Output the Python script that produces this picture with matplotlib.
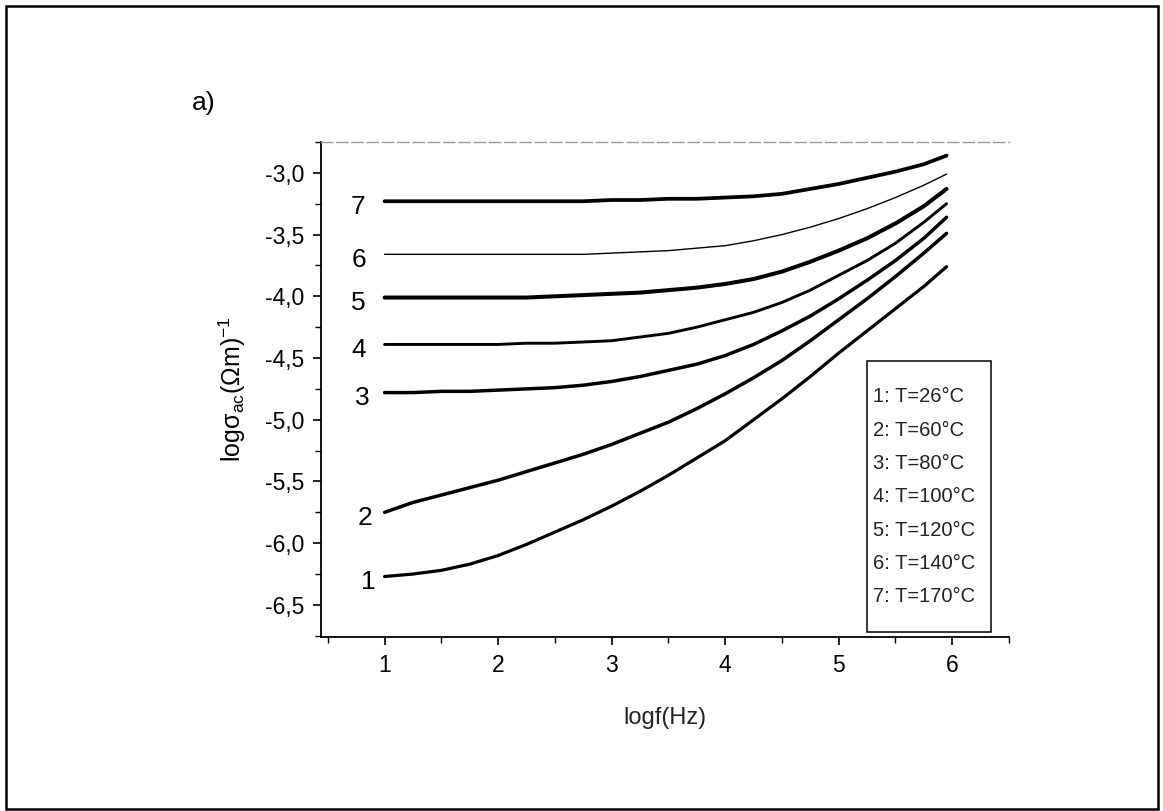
import matplotlib
matplotlib.use("Agg")
import matplotlib.pyplot as plt
from matplotlib.ticker import MultipleLocator, FuncFormatter
from matplotlib.patches import Rectangle

plt.rcParams['font.family'] = ['Liberation Sans', 'DejaVu Sans']
plt.rcParams['mathtext.fontset'] = 'custom'
plt.rcParams['mathtext.rm'] = 'Liberation Sans'
plt.rcParams['mathtext.it'] = 'Liberation Sans:italic'

# ---- data ----
logf = [1.0, 1.25, 1.5, 1.75, 2.0, 2.25, 2.5, 2.75, 3.0, 3.25, 3.5,
        3.75, 4.0, 4.25, 4.5, 4.75, 5.0, 5.25, 5.5, 5.75, 5.95]
curve1 = [-6.27, -6.25, -6.22, -6.17, -6.10, -6.01, -5.91, -5.81, -5.70, -5.58, -5.45,
          -5.31, -5.17, -5.00, -4.83, -4.65, -4.46, -4.28, -4.10, -3.92, -3.76]
curve2 = [-5.75, -5.67, -5.61, -5.55, -5.49, -5.42, -5.35, -5.28, -5.20, -5.11, -5.02,
          -4.91, -4.79, -4.66, -4.52, -4.36, -4.19, -4.02, -3.84, -3.65, -3.49]
curve3 = [-4.78, -4.78, -4.77, -4.77, -4.76, -4.75, -4.74, -4.72, -4.69, -4.65, -4.60,
          -4.55, -4.48, -4.39, -4.28, -4.16, -4.02, -3.87, -3.71, -3.53, -3.36]
curve4 = [-4.39, -4.39, -4.39, -4.39, -4.39, -4.38, -4.38, -4.37, -4.36, -4.33, -4.30,
          -4.25, -4.19, -4.13, -4.05, -3.95, -3.83, -3.71, -3.57, -3.40, -3.25]
curve5 = [-4.01, -4.01, -4.01, -4.01, -4.01, -4.01, -4.00, -3.99, -3.98, -3.97, -3.95,
          -3.93, -3.90, -3.86, -3.80, -3.72, -3.63, -3.53, -3.41, -3.27, -3.13]
curve6 = [-3.66, -3.66, -3.66, -3.66, -3.66, -3.66, -3.66, -3.66, -3.65, -3.64, -3.63,
          -3.61, -3.59, -3.55, -3.50, -3.44, -3.37, -3.29, -3.20, -3.10, -3.01]
curve7 = [-3.23, -3.23, -3.23, -3.23, -3.23, -3.23, -3.23, -3.23, -3.22, -3.22, -3.21,
          -3.21, -3.20, -3.19, -3.17, -3.13, -3.09, -3.04, -2.99, -2.93, -2.86]
curves = [curve1, curve2, curve3, curve4, curve5, curve6, curve7]
curve_labels = ['1', '2', '3', '4', '5', '6', '7']
legend_lines = ['1: T=26°C', '2: T=60°C', '3: T=80°C', '4: T=100°C',
                '5: T=120°C', '6: T=140°C', '7: T=170°C']
xticks = [1, 2, 3, 4, 5, 6]
yticks = [-3.0, -3.5, -4.0, -4.5, -5.0, -5.5, -6.0, -6.5]

linewidths = [2.3, 2.5, 2.5, 2.1, 2.9, 1.0, 2.7]
label_x = [0.86, 0.83, 0.80, 0.77, 0.77, 0.77, 0.77]

W, H = 1163, 811
fig = plt.figure(figsize=(W / 100, H / 100), dpi=100)
fig.patch.set_facecolor('white')

# outer frame
fig.add_artist(Rectangle((6 / W, 1 - 809 / H), (1158 - 6) / W, (809 - 6) / H,
                         transform=fig.transFigure, fill=False,
                         edgecolor='black', linewidth=1.8))

ax = fig.add_axes([321 / W, 1 - 637 / H, (1009 - 321) / W, (637 - 142) / H])

for c, lw in zip(curves, linewidths):
    ax.plot(logf, c, color='black', linewidth=lw, solid_capstyle='round',
            solid_joinstyle='round')

for c, lab, lx in zip(curves, curve_labels, label_x):
    ax.text(lx, c[0] - 0.045, lab, fontsize=19, ha='center', va='center')

ax.set_xlim(0.44, 6.5)
ax.set_ylim(-6.76, -2.75)
ax.set_xticks(xticks)
ax.set_yticks(yticks)
ax.xaxis.set_minor_locator(MultipleLocator(0.5))
ax.yaxis.set_minor_locator(MultipleLocator(0.25))
ax.yaxis.set_major_formatter(FuncFormatter(lambda v, p: f"{v:.1f}".replace('.', ',')))
ax.xaxis.set_major_formatter(FuncFormatter(lambda v, p: f"{v:.0f}"))
ax.tick_params(which='major', direction='out', length=6, width=1.2,
               labelsize=16.5, pad=6)
ax.tick_params(which='minor', direction='out', length=4, width=1.0)

ax.spines['right'].set_visible(False)
ax.spines['top'].set_color('#999999')
ax.spines['top'].set_linestyle((0, (8, 3)))
ax.spines['top'].set_linewidth(1.0)
ax.spines['left'].set_linewidth(1.3)
ax.spines['bottom'].set_linewidth(1.3)

ax.set_xlabel('logf(Hz)', fontsize=17, labelpad=22, color='#222222')
ax.set_ylabel(r'logσ$_{\mathrm{ac}}$(Ωm)$^{\mathrm{-1}}$', fontsize=18, labelpad=12)

# legend box
ax.add_artist(Rectangle((867 / W, 1 - 632 / H), (991 - 867) / W, (632 - 361) / H,
                        transform=fig.transFigure, fill=False,
                        edgecolor='black', linewidth=1.1))
for i, t in enumerate(legend_lines):
    fig.text(873 / W, 1 - (397 + i * 33.3) / H, t, fontsize=14.5,
             ha='left', va='center', color='#222222')

fig.text(192 / W, 1 - 103 / H, 'a)', fontsize=19, ha='left', va='center')

fig.savefig('out.png', dpi=100, facecolor='white')
